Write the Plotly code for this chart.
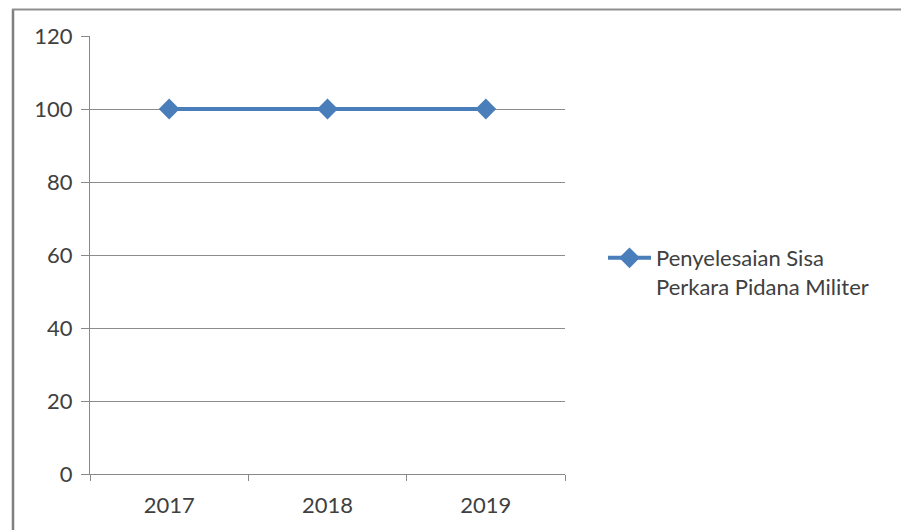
import plotly.graph_objects as go

# Data
years = ["2017", "2018", "2019"]
values = [100, 100, 100]
series_name = "Penyelesaian Sisa<br>Perkara Pidana Militer"
y_ticks = [0, 20, 40, 60, 80, 100, 120]

W, H = 901, 530
L, R, T, B = 90, 336, 36, 56
pw, ph = W - L - R, H - T - B


def px_x(px):
    return (px - L) / pw


def px_y(py):
    return (H - B - py) / ph


fig = go.Figure()
fig.add_trace(go.Scatter(
    x=years, y=values, name=series_name, mode="lines+markers",
    line=dict(color="#4a7ebb", width=4),
    marker=dict(symbol="diamond", size=16, color="#4a7ebb"),
    showlegend=True,
))

font = dict(family="Lato, Open Sans, sans-serif", size=22, color="#404040")

fig.update_layout(
    width=W, height=H,
    margin=dict(l=L, r=R, t=T, b=B, pad=0),
    paper_bgcolor="white", plot_bgcolor="white",
    font=font,
    showlegend=True,
    legend=dict(
        x=px_x(603), y=px_y(237), xanchor="left", yanchor="top",
        valign="top", font=font,
        bgcolor="rgba(0,0,0,0)", itemwidth=43, tracegroupgap=0,
    ),
    xaxis=dict(
        type="category", range=[-0.5, 2.5], tickson="boundaries",
        showgrid=False, showline=True, linecolor="#888888", linewidth=1,
        ticks="outside", ticklen=6, tickcolor="#888888", ticklabelstandoff=12,
        tickfont=font, zeroline=False,
    ),
    yaxis=dict(
        range=[0, 120], tickvals=y_ticks, showgrid=True, gridcolor="#8c8c8c",
        gridwidth=1, showline=True, linecolor="#888888", linewidth=1,
        ticks="outside", ticklen=8, tickcolor="#888888", ticklabelstandoff=4,
        tickfont=font, zeroline=False,
    ),
    shapes=[
        dict(type="line", xref="paper", yref="paper",
             x0=px_x(13), x1=px_x(13), y0=px_y(9), y1=px_y(H + 2),
             line=dict(color="#7f7f7f", width=2.5)),
        dict(type="line", xref="paper", yref="paper",
             x0=px_x(12), x1=px_x(W + 2), y0=px_y(9.5), y1=px_y(9.5),
             line=dict(color="#8f8f8f", width=2)),
    ],
)

fig.write_html("out.html")
